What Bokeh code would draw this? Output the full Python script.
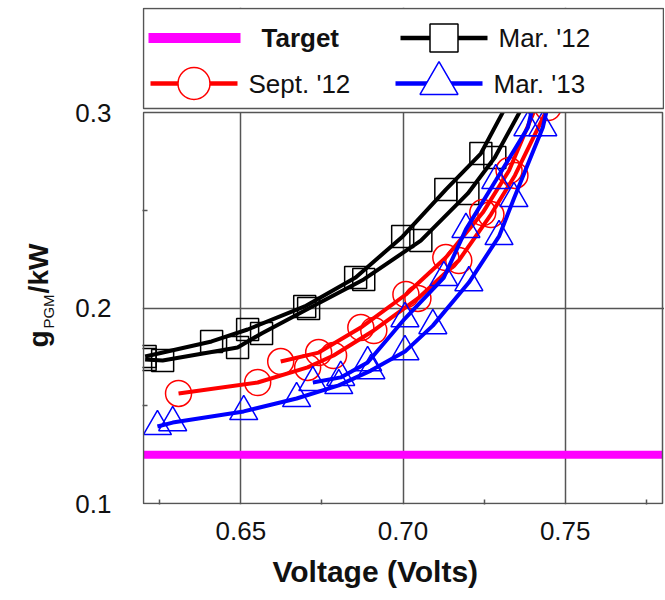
import math
from bokeh.plotting import figure
from bokeh.models import Range1d, FixedTicker, NumeralTickFormatter, Title
from bokeh.layouts import row
from bokeh.core.properties import value
from bokeh.embed import file_html
from bokeh.resources import INLINE

# ---------------- data ----------------
series_names = ["Target", "Mar. '12", "Sept. '12", "Mar. '13"]

target_v = [0.62, 0.78]
target_g = [0.125, 0.125]

mar12_a_v = [0.6205, 0.6410, 0.6521, 0.6697, 0.6854, 0.6999, 0.7132, 0.7240, 0.7327]
mar12_a_g = [0.1752, 0.1829, 0.1890, 0.2008, 0.2156, 0.2366, 0.2606, 0.2790, 0.3061]
mar12_b_v = [0.6205, 0.6259, 0.6490, 0.6564, 0.6709, 0.6879, 0.7055, 0.7200, 0.7283, 0.7379]
mar12_b_g = [0.1736, 0.1731, 0.1798, 0.1870, 0.1997, 0.2146, 0.2345, 0.2586, 0.2770, 0.3061]

sep12_a_v = [0.6308, 0.6552, 0.6706, 0.6786, 0.6910, 0.7046, 0.7172, 0.7271, 0.7345, 0.7447]
sep12_a_g = [0.1563, 0.1619, 0.1696, 0.1757, 0.1885, 0.2049, 0.2243, 0.2478, 0.2678, 0.3025]
sep12_b_v = [0.6623, 0.6740, 0.6870, 0.7009, 0.7132, 0.7246, 0.7327, 0.7428]
sep12_b_g = [0.1726, 0.1772, 0.1900, 0.2069, 0.2258, 0.2488, 0.2703, 0.3100]

mar13_a_v = [0.6243, 0.6290, 0.6509, 0.6672, 0.6802, 0.6901, 0.7006, 0.7092, 0.7203, 0.7296, 0.7342, 0.7431, 0.7450]
mar13_a_g = [0.1394, 0.1414, 0.1471, 0.1537, 0.1604, 0.1680, 0.1777, 0.1910, 0.2130, 0.2366, 0.2560, 0.2923, 0.3060]
mar13_b_v = [0.6722, 0.6808, 0.6891, 0.7006, 0.7126, 0.7194, 0.7286, 0.7385, 0.7404]
mar13_b_g = [0.1619, 0.1645, 0.1721, 0.1946, 0.2156, 0.2402, 0.2652, 0.2923, 0.3060]

x_ticks = [0.65, 0.70, 0.75]
x_minor = [0.625, 0.675, 0.725, 0.775]
y_ticks = [0.1, 0.2, 0.3]
y_minor = [0.15, 0.25]
x_lo, x_hi = 0.62, 0.78
y_lo, y_hi = 0.1, 0.3

x_title = "Voltage (Volts)"
y_title_parts = ["g", "PGM", "/kW"]

# ---------------- layout / styling (page pixels) ----------------
FONT = "Liberation Sans"
GRID = "#555555"
MAGENTA = "#ff00ff"
RED = "#ff0000"
BLUE = "#0000ff"
BLACK = "#000000"
TXT = "#111111"

PLOT_L, PLOT_R, PLOT_T, PLOT_B = 143, 662, 112, 503     # plot box on the page
FR_L, FR_R, FR_T, FR_B = 142, 664, 7, 504               # drawing frame (box + legend)
XS = (PLOT_R - PLOT_L) / (x_hi - x_lo)                  # px per volt
YS = (PLOT_B - PLOT_T) / (y_hi - y_lo)                  # px per g/kW


def vx(px):
    return x_lo + (px - PLOT_L) / XS


def vy(py):
    return y_lo + (PLOT_B - py) / YS


YLAB_W = 64
FIG_H = 600

p = figure(width=FR_R - YLAB_W, height=FIG_H,
           x_range=Range1d(vx(FR_L), vx(FR_R)), y_range=Range1d(vy(FR_B), vy(FR_T)),
           output_backend="svg", toolbar_location=None,
           min_border_left=FR_L - YLAB_W, min_border_right=0, min_border_top=FR_T,
           min_border_bottom=FIG_H - FR_B)
p.background_fill_color = "white"
p.border_fill_color = "white"
p.outline_line_color = None

for ax in (p.xaxis[0], p.yaxis[0]):
    ax.axis_line_color = None
    ax.major_tick_in = 0
    ax.major_tick_out = 0
    ax.minor_tick_in = 5
    ax.minor_tick_out = 0
    ax.minor_tick_line_color = GRID
    ax.minor_tick_line_width = 1.5
    ax.major_label_text_font = FONT
    ax.major_label_text_font_size = "26px"
    ax.major_label_text_color = TXT

p.xaxis.ticker = FixedTicker(ticks=x_ticks, minor_ticks=x_minor)
p.yaxis.ticker = FixedTicker(ticks=y_ticks, minor_ticks=y_minor)
p.xaxis.formatter = NumeralTickFormatter(format="0.00")
p.yaxis.formatter = NumeralTickFormatter(format="0.0")
p.xaxis.major_label_standoff = 17
p.yaxis.major_label_standoff = 31

p.xgrid.ticker = FixedTicker(ticks=x_ticks)
p.ygrid.ticker = FixedTicker(ticks=[0.2])
for g in (p.xgrid[0], p.ygrid[0]):
    g.grid_line_color = GRID
    g.grid_line_width = 1.5

# ---- data marks ----
p.line(target_v, target_g, line_color=MAGENTA, line_width=8)


def series(xs, ys, color, marker, size):
    p.line(xs, ys, line_color=color, line_width=4)
    p.scatter(xs, ys, marker=marker, size=size, fill_alpha=0, line_color=color, line_width=1.5)


series(mar12_a_v, mar12_a_g, BLACK, "square", 22)
series(mar12_b_v, mar12_b_g, BLACK, "square", 22)
series(sep12_a_v, sep12_a_g, RED, "circle", 26)
series(sep12_b_v, sep12_b_g, RED, "circle", 26)
series(mar13_a_v, mar13_a_g, BLUE, "triangle", 28)
series(mar13_b_v, mar13_b_g, BLUE, "triangle", 28)

# ---- mask above the plot box, plot box outline ----
p.quad(left=[vx(FR_L)], right=[vx(FR_R)], bottom=[y_hi], top=[vy(FR_T)],
       fill_color="white", line_color=None)
p.quad(left=[x_lo], right=[x_hi], bottom=[y_lo], top=[y_hi],
       fill_alpha=0, line_color=GRID, line_width=1.5)

# ---- legend box ----
p.quad(left=[vx(143)], right=[vx(663)], bottom=[vy(108)], top=[vy(8)],
       fill_color="white", line_color=GRID, line_width=1.5)
keys = [
    (148, 240, 37.5, MAGENTA, None, 0, 261, "bold"),
    (400, 487, 37.5, BLACK, "square", 28, 498, "normal"),
    (150, 237, 83, RED, "circle", 32, 248, "normal"),
    (395, 482, 83, BLUE, "triangle", 38, 493, "normal"),
]
for name, (a, b, yy, col, mk, ms, tx, st) in zip(series_names, keys):
    p.line([vx(a), vx(b)], [vy(yy), vy(yy)], line_color=col,
           line_width=10 if mk is None else 4.5)
    if mk is not None:
        p.scatter([vx((a + b) / 2)], [vy(yy)], marker=mk, size=ms, fill_color="white",
                  line_color=col, line_width=1.5)
    p.text([vx(tx)], [vy(yy)], text=[name], text_font=value(FONT), text_font_size="26px",
           text_font_style=st, text_baseline="middle", text_align="left", text_color=TXT)

# ---- x title ----
p.add_layout(Title(text=x_title, align="left", offset=272 - FR_L, standoff=21,
                   text_font=FONT, text_font_size="30px", text_font_style="bold",
                   text_color=TXT), "below")

# ---------------- y title panel: frame aligns with the plot frame ----------------
ylab = figure(width=YLAB_W, height=FIG_H, x_range=Range1d(0, YLAB_W),
              y_range=Range1d(-FR_B, -FR_T), output_backend="svg", toolbar_location=None,
              x_axis_type=None, y_axis_type=None, min_border=0, title=None)
ylab.grid.visible = False
ylab.outline_line_color = None
ylab.background_fill_color = "white"
ylab.border_fill_color = "white"
centres = [(37.5, 338.5), (48, 311), (37.5, 268)]
for txt, (cx, cy), size, style in zip(y_title_parts, centres,
                                      ["28px", "15px", "28px"], ["bold", "normal", "bold"]):
    ylab.text([cx], [-cy], text=[txt], angle=math.pi / 2,
              text_font=value(FONT), text_font_size=size, text_font_style=style,
              text_align="center", text_baseline="middle", text_color=TXT)

layout = row(ylab, p, spacing=0)
open("out.html", "w").write(file_html(layout, INLINE))
